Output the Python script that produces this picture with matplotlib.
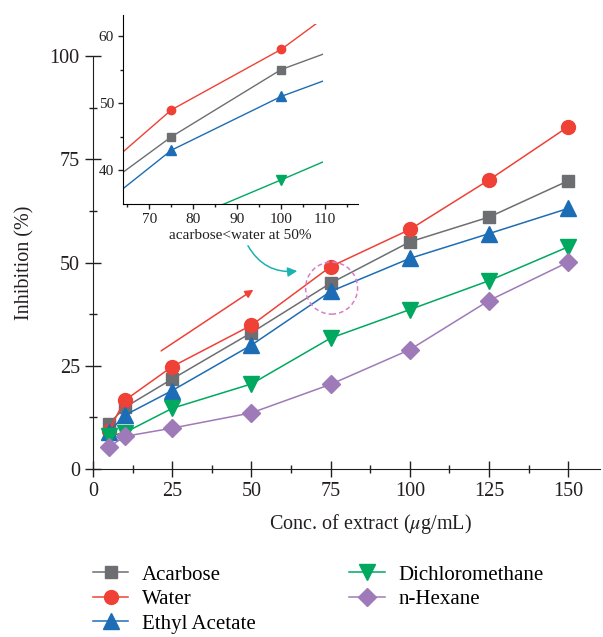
import numpy as np
import matplotlib
matplotlib.use("Agg")
import matplotlib.pyplot as plt
from matplotlib.patches import Ellipse, Rectangle

plt.rcParams["font.family"] = ["Liberation Serif", "DejaVu Serif"]
plt.rcParams["mathtext.fontset"] = "stix"

# Data
conc = [5, 10, 25, 50, 75, 100, 125, 150]
acarbose = [10.9, 14.9, 21.8, 33.0, 45.0, 55.0, 61.0, 69.8]
water = [9.3, 16.6, 24.8, 34.8, 49.0, 58.0, 70.0, 82.9]
ethyl_acetate = [8.9, 13.0, 19.0, 30.0, 43.0, 51.0, 57.0, 63.1]
dichloromethane = [8.0, 8.8, 14.7, 20.6, 31.7, 38.6, 45.6, 53.8]
n_hexane = [5.3, 7.9, 9.9, 13.6, 20.5, 28.9, 40.8, 50.1]

series = [
    ("Acarbose", acarbose, "#6d6e71", "s", 9),
    ("Water", water, "#ef4136", "o", 10),
    ("Ethyl Acetate", ethyl_acetate, "#1c6db5", "^", 11),
    ("Dichloromethane", dichloromethane, "#00a860", "v", 11),
    ("n-Hexane", n_hexane, "#9f7ab8", "D", 9),
]

fig = plt.figure(figsize=(6.03, 6.37), dpi=100)
ax = fig.add_axes([0.1542, 0.2637, 0.8408, 0.6484])

for name, vals, color, mk, ms in series:
    ax.plot(conc, vals, color=color, marker=mk, markersize=ms, lw=1.1,
            label=name)

ax.set_xlim(0, 160)
ax.set_ylim(0, 100)
ax.set_xticks([0, 25, 50, 75, 100, 125, 150])
ax.set_xticks(np.arange(12.5, 151, 25), minor=True)
ax.set_yticks([0, 25, 50, 75, 100])
ax.set_yticks(np.arange(12.5, 100, 25), minor=True)
for side in ["top", "right"]:
    ax.spines[side].set_visible(False)
for side in ["left", "bottom"]:
    ax.spines[side].set_color("#231f20")
ax.tick_params(which="major", direction="inout", length=11, width=1,
               labelsize=14.5, pad=4, colors="#231f20")
ax.tick_params(which="minor", direction="inout", length=6, width=1,
               colors="#231f20")
ax.set_xlabel(r"Conc. of extract ($\mu$g/mL)", fontsize=14.5, color="#231f20")
ax.xaxis.set_label_coords(0.548, -0.105)
ax.set_ylabel("Inhibition (%)", fontsize=14.5, color="#231f20")
ax.yaxis.set_label_coords(-0.115, 0.5)

# red trend arrow
ax.annotate("", xy=(50.6, 43.4), xytext=(21.5, 28.6),
            arrowprops=dict(arrowstyle="-|>", color="#ef4136", lw=1.1,
                            mutation_scale=12, shrinkA=0, shrinkB=0))

# dashed circle around 75 ug/mL
ax.add_patch(Ellipse((75.3, 43.8), 16.4, 12.6, fill=False, ls=(0, (3, 2)),
                     lw=1.1, edgecolor="#d77fc6", zorder=5))

# inset zoom
axin = fig.add_axes([0.204, 0.6797, 0.390, 0.2967])
clip = Rectangle((64, 35), 45.5, 26.7, transform=axin.transData)
for name, vals, color, mk, ms in series:
    ln, = axin.plot(conc, vals, color=color, marker=mk, markersize=ms * 0.6,
                    lw=1.0)
    ln.set_clip_path(clip)
axin.set_xlim(64, 117.5)
axin.set_ylim(35, 63.1)
axin.set_xticks([70, 80, 90, 100, 110])
axin.set_xticks(np.arange(65, 116, 10), minor=True)
axin.set_yticks([40, 50, 60])
axin.set_yticks([45, 55], minor=True)
axin.patch.set_alpha(0)
for side in ["top", "right"]:
    axin.spines[side].set_visible(False)
axin.tick_params(which="major", direction="out", length=3.5, width=1,
                 labelsize=11, pad=3, colors="#231f20")
axin.tick_params(which="minor", direction="out", length=2, width=1,
                 colors="#231f20")
axin.set_xlabel("acarbose<water at 50%", fontsize=11, color="#231f20",
                labelpad=2)

# teal arrow from inset label to circled points
fig.patches.append(matplotlib.patches.FancyArrowPatch(
    (0.409, 0.618), (0.4975, 0.575), transform=fig.transFigure,
    connectionstyle="arc3,rad=0.35", arrowstyle="-|>", mutation_scale=14,
    color="#1ab3b0", lw=1.1))

handles, labels = ax.get_legend_handles_labels()
fig.legend(handles, labels, ncol=2, loc="upper left",
           bbox_to_anchor=(0.154, 0.113), frameon=False, fontsize=15,
           handlelength=1.7, handletextpad=0.65, labelspacing=0.24,
           columnspacing=4.5, borderpad=0, borderaxespad=0)

fig.savefig("out.png", dpi=100)
